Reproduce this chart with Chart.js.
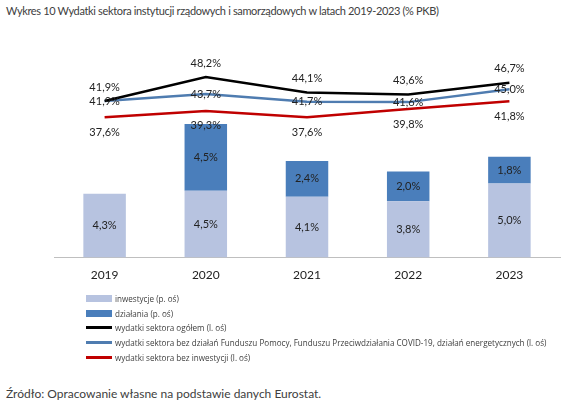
<!DOCTYPE html>
<html>
<head>
<meta charset="utf-8">
<script src="https://cdn.jsdelivr.net/npm/chart.js@4"></script>
<style>
  body { margin: 0; width: 576px; height: 410px; background: #fff; font-family: Lato, sans-serif; position: relative; }
  #title { position: absolute; left: 6px; top: 4px; font-size: 11px; color: #404040; letter-spacing: -0.35px; }
  #wrap { position: absolute; left: 0; top: 0; width: 576px; height: 292px; }
  #legend { position: absolute; left: 86px; top: 291px; font-size: 8.1px; color: #404040; font-family: "Open Sans", sans-serif; }
  .item { height: 14.8px; display: flex; align-items: center; }
  .sw { width: 26px; margin-right: 3px; }
  #source { position: absolute; left: 6px; top: 386px; font-size: 12px; color: #404040; }
</style>
</head>
<body>
<div id="title">Wykres 10 Wydatki sektora instytucji rządowych i samorządowych w latach 2019-2023 (% PKB)</div>
<div id="wrap"><canvas id="chart"></canvas></div>
<div id="legend"></div>
<div id="source">Źródło: Opracowanie własne na podstawie danych Eurostat.</div>
<script>
const years = ['2019', '2020', '2021', '2022', '2023'];
const dzialania = [0, 4.5, 2.4, 2.0, 1.8];
const inwestycje = [4.3, 4.5, 4.1, 3.8, 5.0];
const ogolem = [41.9, 48.2, 44.1, 43.6, 46.7];
const bezFunduszy = [41.9, 43.7, 41.7, 41.6, 45.0];
const bezInwestycji = [37.6, 39.3, 37.6, 39.8, 41.8];

const fmt = v => v.toFixed(1).replace('.', ',') + '%';

// labels: bars centred, lines above / on / below
const labelPlugin = {
    id: 'labels',
    afterDatasetsDraw(chart) {
        const ctx = chart.ctx;
        ctx.save();
        ctx.font = '11px Lato, sans-serif';
        ctx.fillStyle = '#222';
        ctx.textAlign = 'center';
        ctx.textBaseline = 'middle';
        chart.data.datasets.forEach((ds, i) => {
            const meta = chart.getDatasetMeta(i);
            meta.data.forEach((el, j) => {
                const v = ds.data[j];
                if (!v) return;
                let y;
                if (ds.type === 'bar') y = (el.y + el.base) / 2;
                else y = el.y + ds.labelOffset;
                ctx.fillText(fmt(v), el.x, y);
            });
        });
        ctx.restore();
    }
};

const datasets = [
    { type: 'bar', label: 'działania (p. oś)', data: dzialania, backgroundColor: '#4a7ebb', yAxisID: 'yR', stack: 's', order: 5 },
    { type: 'bar', label: 'inwestycje (p. oś)', data: inwestycje, backgroundColor: '#b7c3e0', yAxisID: 'yR', stack: 's', order: 4 },
    { type: 'line', label: 'wydatki sektora ogółem (l. oś)', data: ogolem, borderColor: '#000', borderWidth: 2.5, pointRadius: 0, yAxisID: 'yL', labelOffset: -14, order: 1 },
    { type: 'line', label: 'wydatki sektora bez działań Funduszu Pomocy, Funduszu Przeciwdziałania COVID-19, działań energetycznych (l. oś)', data: bezFunduszy, borderColor: '#4f7cb0', borderWidth: 2.5, pointRadius: 0, yAxisID: 'yL', labelOffset: 0, order: 2 },
    { type: 'line', label: 'wydatki sektora bez inwestycji (l. oś)', data: bezInwestycji, borderColor: '#c00000', borderWidth: 2.5, pointRadius: 0, yAxisID: 'yL', labelOffset: 15, order: 3 }
];

new Chart(document.getElementById('chart'), {
    data: { labels: years, datasets: datasets },
    options: {
        responsive: true,
        maintainAspectRatio: false,
        animation: false,
        layout: { padding: { left: 54, right: 16, top: 40, bottom: 0 } },
        datasets: { bar: { barPercentage: 0.42, categoryPercentage: 1 } },
        plugins: { legend: { display: false }, tooltip: { enabled: false } },
        scales: {
            x: {
                grid: { display: false, drawTicks: false },
                border: { color: '#bfbfbf' },
                ticks: { color: '#222', font: { size: 12, family: 'Lato' }, padding: 10 }
            },
            yL: { position: 'left', display: false, min: 0.8, max: 57.9 },
            yR: { position: 'right', display: false, stacked: true, min: 0, max: 14.66 }
        }
    },
    plugins: [labelPlugin]
});

// html legend in reference order
const legendItems = [
    { text: datasets[1].label, color: '#b7c3e0', h: 7 },
    { text: datasets[0].label, color: '#4a7ebb', h: 7 },
    { text: datasets[2].label, color: '#000', h: 3 },
    { text: datasets[3].label, color: '#4f7cb0', h: 3 },
    { text: datasets[4].label, color: '#c00000', h: 3 }
];
const legend = document.getElementById('legend');
legendItems.forEach(it => {
    const d = document.createElement('div');
    d.className = 'item';
    d.innerHTML = `<span class="sw" style="height:${it.h}px;background:${it.color}"></span><span>${it.text}</span>`;
    legend.appendChild(d);
});
</script>
</body>
</html>
